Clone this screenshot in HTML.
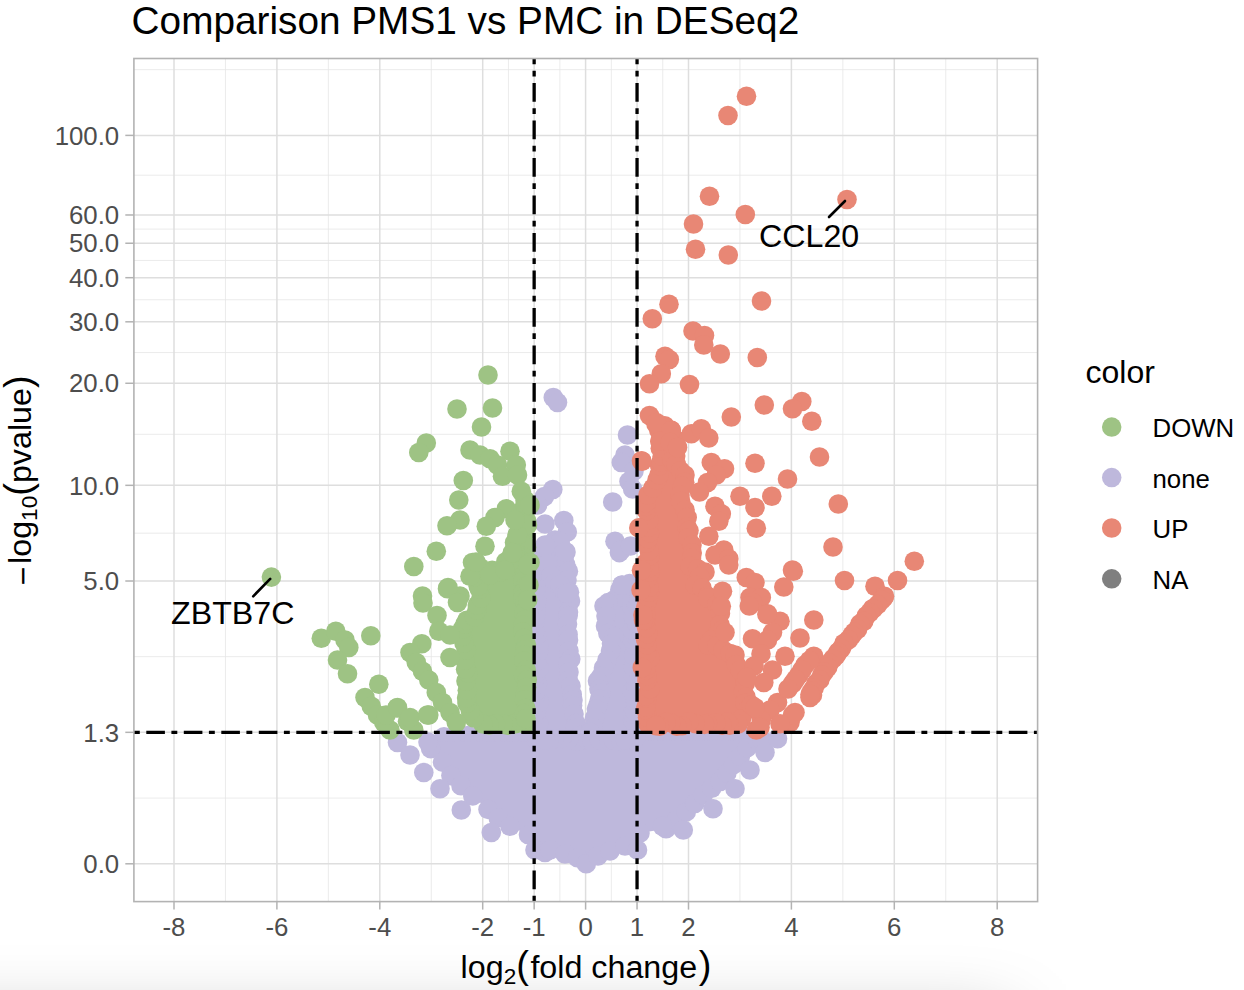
<!DOCTYPE html>
<html lang="en"><head><meta charset="utf-8"><title>Comparison PMS1 vs PMC in DESeq2</title>
<style>html,body{margin:0;padding:0;background:#fff;}body{width:1244px;height:990px;overflow:hidden;}svg{display:block;font-family:"Liberation Sans",Arial,Helvetica,sans-serif;}</style></head><body>
<svg width="1244" height="990" viewBox="0 0 1244 990">
<defs><filter id="bl" filterUnits="userSpaceOnUse" x="-400" y="800" width="1800" height="600"><feGaussianBlur stdDeviation="36"/></filter>
<clipPath id="cp"><rect x="133.9" y="58.5" width="903.6999999999999" height="843.1"/></clipPath></defs>
<rect width="1244" height="990" fill="#fff"/>
<rect x="-300" y="1024" width="1308" height="300" fill="#000" fill-opacity="0.3" filter="url(#bl)"/>
<rect x="133.9" y="58.5" width="903.6999999999999" height="843.1" fill="#fff"/>
<g stroke="#e6e6e6" stroke-width="0.8" fill="none">
<line x1="225.45" x2="225.45" y1="58.5" y2="901.6"/>
<line x1="328.35" x2="328.35" y1="58.5" y2="901.6"/>
<line x1="431.25" x2="431.25" y1="58.5" y2="901.6"/>
<line x1="508.43" x2="508.43" y1="58.5" y2="901.6"/>
<line x1="559.88" x2="559.88" y1="58.5" y2="901.6"/>
<line x1="611.33" x2="611.33" y1="58.5" y2="901.6"/>
<line x1="662.78" x2="662.78" y1="58.5" y2="901.6"/>
<line x1="739.95" x2="739.95" y1="58.5" y2="901.6"/>
<line x1="842.85" x2="842.85" y1="58.5" y2="901.6"/>
<line x1="945.75" x2="945.75" y1="58.5" y2="901.6"/>
<line x1="133.9" x2="1037.6" y1="798.07" y2="798.07"/>
<line x1="133.9" x2="1037.6" y1="656.67" y2="656.67"/>
<line x1="133.9" x2="1037.6" y1="533.17" y2="533.17"/>
<line x1="133.9" x2="1037.6" y1="434.31" y2="434.31"/>
<line x1="133.9" x2="1037.6" y1="352.55" y2="352.55"/>
<line x1="133.9" x2="1037.6" y1="299.75" y2="299.75"/>
<line x1="133.9" x2="1037.6" y1="260.46" y2="260.46"/>
<line x1="133.9" x2="1037.6" y1="229.11" y2="229.11"/>
<line x1="133.9" x2="1037.6" y1="175.19" y2="175.19"/>
<line x1="133.9" x2="1037.6" y1="69.67" y2="69.67"/>
</g>
<g stroke="#dedede" stroke-width="1.5" fill="none">
<line x1="174.00" x2="174.00" y1="58.5" y2="901.6"/>
<line x1="276.90" x2="276.90" y1="58.5" y2="901.6"/>
<line x1="379.80" x2="379.80" y1="58.5" y2="901.6"/>
<line x1="482.70" x2="482.70" y1="58.5" y2="901.6"/>
<line x1="534.15" x2="534.15" y1="58.5" y2="901.6"/>
<line x1="585.60" x2="585.60" y1="58.5" y2="901.6"/>
<line x1="637.05" x2="637.05" y1="58.5" y2="901.6"/>
<line x1="688.50" x2="688.50" y1="58.5" y2="901.6"/>
<line x1="791.40" x2="791.40" y1="58.5" y2="901.6"/>
<line x1="894.30" x2="894.30" y1="58.5" y2="901.6"/>
<line x1="997.20" x2="997.20" y1="58.5" y2="901.6"/>
<line x1="133.9" x2="1037.6" y1="863.80" y2="863.80"/>
<line x1="133.9" x2="1037.6" y1="732.34" y2="732.34"/>
<line x1="133.9" x2="1037.6" y1="581.01" y2="581.01"/>
<line x1="133.9" x2="1037.6" y1="485.34" y2="485.34"/>
<line x1="133.9" x2="1037.6" y1="383.28" y2="383.28"/>
<line x1="133.9" x2="1037.6" y1="321.81" y2="321.81"/>
<line x1="133.9" x2="1037.6" y1="277.69" y2="277.69"/>
<line x1="133.9" x2="1037.6" y1="243.24" y2="243.24"/>
<line x1="133.9" x2="1037.6" y1="214.98" y2="214.98"/>
<line x1="133.9" x2="1037.6" y1="135.40" y2="135.40"/>
</g>
<g clip-path="url(#cp)">
<g fill="#BEB8DC"><circle cx="444.0" cy="736.8" r="9.8"/><circle cx="450.0" cy="737.8" r="9.8"/><circle cx="456.0" cy="736.0" r="9.8"/><circle cx="462.0" cy="737.0" r="9.8"/><circle cx="468.0" cy="735.6" r="9.8"/><circle cx="474.0" cy="737.5" r="9.8"/><circle cx="480.0" cy="737.8" r="9.8"/><circle cx="486.0" cy="737.2" r="9.8"/><circle cx="492.0" cy="738.1" r="9.8"/><circle cx="498.0" cy="736.4" r="9.8"/><circle cx="504.0" cy="737.6" r="9.8"/><circle cx="510.0" cy="737.3" r="9.8"/><circle cx="516.0" cy="737.2" r="9.8"/><circle cx="522.0" cy="736.9" r="9.8"/><circle cx="528.0" cy="738.0" r="9.8"/><circle cx="534.0" cy="738.3" r="9.8"/><circle cx="637.0" cy="736.9" r="9.8"/><circle cx="643.0" cy="737.5" r="9.8"/><circle cx="649.0" cy="735.7" r="9.8"/><circle cx="655.0" cy="737.6" r="9.8"/><circle cx="661.0" cy="737.4" r="9.8"/><circle cx="667.0" cy="738.5" r="9.8"/><circle cx="673.0" cy="738.0" r="9.8"/><circle cx="679.0" cy="736.4" r="9.8"/><circle cx="685.0" cy="736.7" r="9.8"/><circle cx="691.0" cy="737.5" r="9.8"/><circle cx="697.0" cy="735.6" r="9.8"/><circle cx="703.0" cy="736.9" r="9.8"/><circle cx="709.0" cy="736.0" r="9.8"/><circle cx="715.0" cy="735.9" r="9.8"/><circle cx="721.0" cy="735.7" r="9.8"/><circle cx="727.0" cy="737.8" r="9.8"/><circle cx="733.0" cy="735.9" r="9.8"/><circle cx="739.0" cy="736.2" r="9.8"/><circle cx="745.0" cy="736.7" r="9.8"/><circle cx="751.0" cy="738.1" r="9.8"/></g>
<polygon fill="#BEB8DC" points="430.6,748.6 442.5,762.1 450.9,775.6 461.0,785.8 472.8,795.9 488.0,809.4 498.2,817.8 510.0,826.3 528.5,834.7 535.0,850.0 545.0,852.5 550.0,850.0 565.0,854.0 577.5,857.7 586.3,863.8 598.0,856.0 610.0,851.0 625.0,846.0 637.5,850.0 640.0,833.0 666.1,828.8 676.2,820.3 686.3,811.9 694.8,803.5 703.2,795.0 711.7,788.3 720.1,781.5 726.9,773.1 733.6,764.6 740.4,756.2 747.1,747.8 757.5,740.5 762.0,740.0 428.0,742.0"/><g fill="#BEB8DC"><circle cx="430.6" cy="748.6" r="9.8"/><circle cx="442.5" cy="762.1" r="9.8"/><circle cx="450.9" cy="775.6" r="9.8"/><circle cx="461.0" cy="785.8" r="9.8"/><circle cx="472.8" cy="795.9" r="9.8"/><circle cx="488.0" cy="809.4" r="9.8"/><circle cx="498.2" cy="817.8" r="9.8"/><circle cx="510.0" cy="826.3" r="9.8"/><circle cx="528.5" cy="834.7" r="9.8"/><circle cx="535.0" cy="850.0" r="9.8"/><circle cx="545.0" cy="852.5" r="9.8"/><circle cx="550.0" cy="850.0" r="9.8"/><circle cx="565.0" cy="854.0" r="9.8"/><circle cx="577.5" cy="857.7" r="9.8"/><circle cx="586.3" cy="863.8" r="9.8"/><circle cx="598.0" cy="856.0" r="9.8"/><circle cx="610.0" cy="851.0" r="9.8"/><circle cx="625.0" cy="846.0" r="9.8"/><circle cx="637.5" cy="850.0" r="9.8"/><circle cx="640.0" cy="833.0" r="9.8"/><circle cx="666.1" cy="828.8" r="9.8"/><circle cx="676.2" cy="820.3" r="9.8"/><circle cx="686.3" cy="811.9" r="9.8"/><circle cx="694.8" cy="803.5" r="9.8"/><circle cx="703.2" cy="795.0" r="9.8"/><circle cx="711.7" cy="788.3" r="9.8"/><circle cx="720.1" cy="781.5" r="9.8"/><circle cx="726.9" cy="773.1" r="9.8"/><circle cx="733.6" cy="764.6" r="9.8"/><circle cx="740.4" cy="756.2" r="9.8"/><circle cx="747.1" cy="747.8" r="9.8"/><circle cx="757.5" cy="740.5" r="9.8"/><circle cx="762.0" cy="740.0" r="9.8"/><circle cx="428.0" cy="742.0" r="9.8"/></g>
<polygon fill="#BEB8DC" points="537.0,740.0 537.0,600.0 540.0,565.0 545.0,545.0 560.0,542.0 566.0,552.0 567.0,580.0 570.5,601.0 568.5,612.0 567.5,624.0 568.5,640.0 569.0,651.0 569.0,672.0 571.0,686.0 573.0,700.0 574.0,714.0 575.0,728.0 582.0,740.0"/><g fill="#BEB8DC"><circle cx="537.0" cy="740.0" r="9.8"/><circle cx="534.9" cy="733.7" r="9.8"/><circle cx="537.2" cy="729.7" r="9.8"/><circle cx="538.6" cy="723.6" r="9.8"/><circle cx="535.9" cy="715.2" r="9.8"/><circle cx="536.3" cy="711.5" r="9.8"/><circle cx="539.3" cy="701.7" r="9.8"/><circle cx="535.4" cy="696.1" r="9.8"/><circle cx="535.7" cy="691.2" r="9.8"/><circle cx="537.4" cy="684.0" r="9.8"/><circle cx="534.5" cy="678.7" r="9.8"/><circle cx="536.3" cy="673.4" r="9.8"/><circle cx="539.3" cy="667.9" r="9.8"/><circle cx="537.1" cy="661.5" r="9.8"/><circle cx="537.9" cy="652.6" r="9.8"/><circle cx="539.0" cy="650.1" r="9.8"/><circle cx="538.9" cy="644.1" r="9.8"/><circle cx="536.5" cy="636.0" r="9.8"/><circle cx="535.0" cy="631.1" r="9.8"/><circle cx="534.8" cy="622.2" r="9.8"/><circle cx="535.5" cy="616.6" r="9.8"/><circle cx="536.2" cy="609.9" r="9.8"/><circle cx="534.5" cy="604.3" r="9.8"/><circle cx="537.0" cy="600.0" r="9.8"/><circle cx="535.6" cy="592.3" r="9.8"/><circle cx="535.8" cy="587.9" r="9.8"/><circle cx="539.4" cy="577.2" r="9.8"/><circle cx="538.2" cy="571.2" r="9.8"/><circle cx="540.0" cy="565.0" r="9.8"/><circle cx="541.0" cy="556.4" r="9.8"/><circle cx="545.1" cy="554.1" r="9.8"/><circle cx="545.0" cy="545.0" r="9.8"/><circle cx="552.3" cy="543.4" r="9.8"/><circle cx="560.0" cy="542.0" r="9.8"/><circle cx="566.0" cy="552.0" r="9.8"/><circle cx="564.2" cy="557.0" r="9.8"/><circle cx="565.7" cy="564.8" r="9.8"/><circle cx="568.4" cy="571.3" r="9.8"/><circle cx="567.0" cy="580.0" r="9.8"/><circle cx="565.8" cy="589.3" r="9.8"/><circle cx="569.5" cy="592.2" r="9.8"/><circle cx="570.5" cy="601.0" r="9.8"/><circle cx="568.5" cy="612.0" r="9.8"/><circle cx="568.2" cy="615.6" r="9.8"/><circle cx="567.5" cy="624.0" r="9.8"/><circle cx="568.1" cy="634.4" r="9.8"/><circle cx="568.5" cy="640.0" r="9.8"/><circle cx="569.0" cy="651.0" r="9.8"/><circle cx="570.8" cy="659.0" r="9.8"/><circle cx="567.8" cy="664.3" r="9.8"/><circle cx="569.0" cy="672.0" r="9.8"/><circle cx="568.3" cy="680.4" r="9.8"/><circle cx="571.0" cy="686.0" r="9.8"/><circle cx="572.2" cy="694.4" r="9.8"/><circle cx="573.0" cy="700.0" r="9.8"/><circle cx="572.6" cy="705.6" r="9.8"/><circle cx="574.0" cy="714.0" r="9.8"/><circle cx="576.1" cy="723.4" r="9.8"/><circle cx="575.0" cy="728.0" r="9.8"/><circle cx="580.3" cy="735.5" r="9.8"/><circle cx="582.0" cy="740.0" r="9.8"/><circle cx="577.2" cy="741.2" r="9.8"/><circle cx="567.8" cy="740.1" r="9.8"/><circle cx="562.0" cy="737.6" r="9.8"/><circle cx="553.9" cy="738.9" r="9.8"/><circle cx="548.7" cy="741.0" r="9.8"/><circle cx="545.7" cy="739.7" r="9.8"/></g>
<polygon fill="#BEB8DC" points="634.0,740.0 634.0,585.0 622.0,585.0 620.0,597.0 604.0,606.0 606.0,616.0 605.5,626.0 614.0,637.0 610.5,651.0 607.0,660.0 603.5,668.0 597.5,681.0 601.0,693.0 598.0,705.0 594.5,718.0 593.0,728.0 588.0,740.0"/><g fill="#BEB8DC"><circle cx="634.0" cy="740.0" r="9.8"/><circle cx="636.2" cy="736.2" r="9.8"/><circle cx="636.3" cy="726.9" r="9.8"/><circle cx="632.6" cy="720.0" r="9.8"/><circle cx="632.5" cy="713.7" r="9.8"/><circle cx="634.6" cy="711.0" r="9.8"/><circle cx="635.7" cy="702.7" r="9.8"/><circle cx="634.8" cy="698.1" r="9.8"/><circle cx="631.9" cy="691.2" r="9.8"/><circle cx="636.0" cy="685.6" r="9.8"/><circle cx="635.3" cy="677.9" r="9.8"/><circle cx="632.4" cy="673.2" r="9.8"/><circle cx="633.2" cy="667.1" r="9.8"/><circle cx="636.4" cy="658.9" r="9.8"/><circle cx="633.5" cy="655.4" r="9.8"/><circle cx="635.1" cy="645.4" r="9.8"/><circle cx="632.1" cy="639.1" r="9.8"/><circle cx="636.0" cy="636.1" r="9.8"/><circle cx="632.2" cy="630.0" r="9.8"/><circle cx="636.4" cy="623.0" r="9.8"/><circle cx="633.3" cy="616.2" r="9.8"/><circle cx="632.2" cy="607.4" r="9.8"/><circle cx="636.4" cy="604.3" r="9.8"/><circle cx="634.1" cy="599.6" r="9.8"/><circle cx="633.7" cy="593.1" r="9.8"/><circle cx="634.0" cy="585.0" r="9.8"/><circle cx="629.6" cy="583.6" r="9.8"/><circle cx="622.0" cy="585.0" r="9.8"/><circle cx="619.8" cy="590.0" r="9.8"/><circle cx="620.0" cy="597.0" r="9.8"/><circle cx="613.4" cy="600.4" r="9.8"/><circle cx="608.1" cy="602.6" r="9.8"/><circle cx="604.0" cy="606.0" r="9.8"/><circle cx="606.0" cy="616.0" r="9.8"/><circle cx="605.5" cy="626.0" r="9.8"/><circle cx="607.9" cy="633.6" r="9.8"/><circle cx="614.0" cy="637.0" r="9.8"/><circle cx="611.5" cy="643.8" r="9.8"/><circle cx="610.5" cy="651.0" r="9.8"/><circle cx="607.0" cy="660.0" r="9.8"/><circle cx="603.5" cy="668.0" r="9.8"/><circle cx="600.9" cy="676.5" r="9.8"/><circle cx="597.5" cy="681.0" r="9.8"/><circle cx="598.9" cy="689.1" r="9.8"/><circle cx="601.0" cy="693.0" r="9.8"/><circle cx="599.5" cy="699.2" r="9.8"/><circle cx="598.0" cy="705.0" r="9.8"/><circle cx="596.4" cy="709.1" r="9.8"/><circle cx="594.5" cy="718.0" r="9.8"/><circle cx="593.0" cy="728.0" r="9.8"/><circle cx="590.2" cy="732.4" r="9.8"/><circle cx="588.0" cy="740.0" r="9.8"/><circle cx="592.1" cy="741.5" r="9.8"/><circle cx="599.5" cy="739.9" r="9.8"/><circle cx="608.8" cy="740.3" r="9.8"/><circle cx="613.4" cy="740.1" r="9.8"/><circle cx="621.1" cy="741.4" r="9.8"/><circle cx="625.5" cy="740.3" r="9.8"/></g>
<g fill="#BEB8DC"><circle cx="553.3" cy="397.5" r="9.8"/><circle cx="557.5" cy="402.5" r="9.8"/><circle cx="627.5" cy="435.0" r="9.8"/><circle cx="625.0" cy="455.0" r="9.8"/><circle cx="621.3" cy="462.5" r="9.8"/><circle cx="634.0" cy="471.0" r="9.8"/><circle cx="629.0" cy="481.5" r="9.8"/><circle cx="632.6" cy="489.0" r="9.8"/><circle cx="612.7" cy="502.0" r="9.8"/><circle cx="552.8" cy="489.5" r="9.8"/><circle cx="544.5" cy="496.5" r="9.8"/><circle cx="537.5" cy="505.0" r="9.8"/><circle cx="563.8" cy="520.5" r="9.8"/><circle cx="545.0" cy="524.0" r="9.8"/><circle cx="567.3" cy="532.0" r="9.8"/><circle cx="555.0" cy="540.0" r="9.8"/><circle cx="560.0" cy="542.0" r="9.8"/><circle cx="565.0" cy="551.5" r="9.8"/><circle cx="545.5" cy="545.5" r="9.8"/><circle cx="547.6" cy="564.0" r="9.8"/><circle cx="551.0" cy="575.6" r="9.8"/><circle cx="555.0" cy="582.5" r="9.8"/><circle cx="560.0" cy="584.5" r="9.8"/><circle cx="565.0" cy="592.5" r="9.8"/><circle cx="567.0" cy="593.3" r="9.8"/><circle cx="615.0" cy="541.2" r="9.8"/><circle cx="619.4" cy="552.6" r="9.8"/><circle cx="621.3" cy="550.0" r="9.8"/><circle cx="630.5" cy="546.0" r="9.8"/><circle cx="622.0" cy="585.2" r="9.8"/><circle cx="397.5" cy="742.5" r="9.8"/><circle cx="410.0" cy="755.0" r="9.8"/><circle cx="423.8" cy="772.5" r="9.8"/><circle cx="440.0" cy="788.8" r="9.8"/><circle cx="461.3" cy="810.0" r="9.8"/><circle cx="491.3" cy="832.5" r="9.8"/><circle cx="777.5" cy="738.8" r="9.8"/><circle cx="765.0" cy="752.5" r="9.8"/><circle cx="750.0" cy="770.0" r="9.8"/><circle cx="735.0" cy="788.8" r="9.8"/><circle cx="713.0" cy="808.8" r="9.8"/><circle cx="683.3" cy="830.0" r="9.8"/><circle cx="662.5" cy="826.3" r="9.8"/></g>
<polygon fill="#9EC384" points="525.0,724.0 483.0,724.0 474.0,718.0 467.0,703.0 466.0,681.0 465.0,660.0 464.0,643.0 465.0,624.0 477.0,610.0 481.0,598.0 474.0,577.0 478.0,567.0 500.0,572.0 515.0,552.0 517.0,535.0 524.0,525.0 525.0,505.0 525.0,500.0"/><g fill="#9EC384"><circle cx="525.0" cy="724.0" r="9.8"/><circle cx="517.7" cy="722.9" r="9.8"/><circle cx="514.4" cy="724.0" r="9.8"/><circle cx="507.3" cy="725.3" r="9.8"/><circle cx="503.1" cy="723.7" r="9.8"/><circle cx="495.6" cy="724.0" r="9.8"/><circle cx="489.1" cy="725.0" r="9.8"/><circle cx="483.0" cy="724.0" r="9.8"/><circle cx="474.0" cy="718.0" r="9.8"/><circle cx="470.3" cy="710.7" r="9.8"/><circle cx="467.0" cy="703.0" r="9.8"/><circle cx="466.6" cy="697.9" r="9.8"/><circle cx="467.3" cy="690.2" r="9.8"/><circle cx="466.0" cy="681.0" r="9.8"/><circle cx="467.9" cy="672.8" r="9.8"/><circle cx="465.6" cy="669.2" r="9.8"/><circle cx="465.0" cy="660.0" r="9.8"/><circle cx="466.2" cy="649.7" r="9.8"/><circle cx="464.0" cy="643.0" r="9.8"/><circle cx="462.4" cy="636.4" r="9.8"/><circle cx="462.5" cy="629.0" r="9.8"/><circle cx="465.0" cy="624.0" r="9.8"/><circle cx="466.9" cy="620.2" r="9.8"/><circle cx="474.4" cy="616.7" r="9.8"/><circle cx="477.0" cy="610.0" r="9.8"/><circle cx="477.3" cy="605.1" r="9.8"/><circle cx="481.0" cy="598.0" r="9.8"/><circle cx="479.5" cy="589.2" r="9.8"/><circle cx="478.2" cy="586.3" r="9.8"/><circle cx="474.0" cy="577.0" r="9.8"/><circle cx="478.0" cy="567.0" r="9.8"/><circle cx="483.9" cy="570.9" r="9.8"/><circle cx="492.2" cy="570.3" r="9.8"/><circle cx="500.0" cy="572.0" r="9.8"/><circle cx="506.2" cy="568.7" r="9.8"/><circle cx="505.8" cy="561.7" r="9.8"/><circle cx="511.3" cy="556.2" r="9.8"/><circle cx="515.0" cy="552.0" r="9.8"/><circle cx="514.5" cy="542.6" r="9.8"/><circle cx="517.0" cy="535.0" r="9.8"/><circle cx="521.6" cy="527.6" r="9.8"/><circle cx="524.0" cy="525.0" r="9.8"/><circle cx="524.6" cy="518.0" r="9.8"/><circle cx="522.3" cy="510.8" r="9.8"/><circle cx="525.0" cy="505.0" r="9.8"/><circle cx="525.0" cy="500.0" r="9.8"/><circle cx="525.6" cy="506.1" r="9.8"/><circle cx="522.8" cy="514.5" r="9.8"/><circle cx="526.4" cy="520.5" r="9.8"/><circle cx="523.0" cy="523.0" r="9.8"/><circle cx="522.7" cy="531.7" r="9.8"/><circle cx="523.9" cy="534.5" r="9.8"/><circle cx="524.6" cy="544.4" r="9.8"/><circle cx="526.6" cy="547.2" r="9.8"/><circle cx="523.2" cy="556.6" r="9.8"/><circle cx="525.4" cy="561.5" r="9.8"/><circle cx="522.9" cy="564.4" r="9.8"/><circle cx="525.9" cy="572.3" r="9.8"/><circle cx="522.9" cy="580.9" r="9.8"/><circle cx="525.7" cy="586.3" r="9.8"/><circle cx="522.9" cy="592.6" r="9.8"/><circle cx="522.8" cy="598.7" r="9.8"/><circle cx="524.8" cy="602.1" r="9.8"/><circle cx="525.3" cy="611.1" r="9.8"/><circle cx="523.8" cy="613.2" r="9.8"/><circle cx="525.1" cy="619.8" r="9.8"/><circle cx="523.0" cy="625.4" r="9.8"/><circle cx="522.8" cy="631.7" r="9.8"/><circle cx="524.1" cy="638.3" r="9.8"/><circle cx="526.3" cy="644.2" r="9.8"/><circle cx="525.0" cy="649.7" r="9.8"/><circle cx="524.2" cy="655.0" r="9.8"/><circle cx="523.8" cy="661.0" r="9.8"/><circle cx="526.2" cy="669.8" r="9.8"/><circle cx="523.4" cy="675.4" r="9.8"/><circle cx="527.2" cy="679.7" r="9.8"/><circle cx="526.6" cy="687.3" r="9.8"/><circle cx="525.0" cy="695.4" r="9.8"/><circle cx="524.5" cy="699.8" r="9.8"/><circle cx="525.9" cy="708.3" r="9.8"/><circle cx="524.2" cy="713.6" r="9.8"/><circle cx="526.0" cy="718.6" r="9.8"/></g>
<g fill="#9EC384"><circle cx="271.4" cy="577.1" r="9.8"/><circle cx="488.0" cy="375.0" r="9.8"/><circle cx="457.0" cy="409.0" r="9.8"/><circle cx="492.5" cy="408.0" r="9.8"/><circle cx="481.5" cy="427.0" r="9.8"/><circle cx="426.3" cy="443.0" r="9.8"/><circle cx="418.8" cy="452.5" r="9.8"/><circle cx="470.0" cy="450.0" r="9.8"/><circle cx="480.0" cy="455.0" r="9.8"/><circle cx="490.0" cy="458.8" r="9.8"/><circle cx="510.0" cy="451.3" r="9.8"/><circle cx="497.5" cy="465.0" r="9.8"/><circle cx="516.3" cy="465.0" r="9.8"/><circle cx="502.5" cy="476.3" r="9.8"/><circle cx="517.5" cy="475.0" r="9.8"/><circle cx="521.3" cy="491.3" r="9.8"/><circle cx="463.3" cy="480.5" r="9.8"/><circle cx="458.8" cy="500.0" r="9.8"/><circle cx="460.0" cy="520.0" r="9.8"/><circle cx="447.0" cy="525.8" r="9.8"/><circle cx="506.3" cy="508.8" r="9.8"/><circle cx="495.0" cy="517.5" r="9.8"/><circle cx="486.3" cy="526.3" r="9.8"/><circle cx="485.0" cy="546.3" r="9.8"/><circle cx="436.3" cy="551.3" r="9.8"/><circle cx="413.8" cy="566.5" r="9.8"/><circle cx="472.5" cy="562.5" r="9.8"/><circle cx="480.0" cy="567.5" r="9.8"/><circle cx="470.0" cy="576.3" r="9.8"/><circle cx="448.0" cy="587.5" r="9.8"/><circle cx="422.5" cy="596.0" r="9.8"/><circle cx="460.0" cy="596.0" r="9.8"/><circle cx="530.0" cy="505.0" r="9.8"/><circle cx="527.5" cy="525.0" r="9.8"/><circle cx="517.5" cy="535.0" r="9.8"/><circle cx="515.0" cy="552.5" r="9.8"/><circle cx="530.0" cy="562.5" r="9.8"/><circle cx="476.0" cy="562.0" r="9.8"/><circle cx="490.0" cy="575.0" r="9.8"/><circle cx="505.0" cy="570.0" r="9.8"/><circle cx="512.5" cy="552.5" r="9.8"/><circle cx="515.0" cy="520.0" r="9.8"/><circle cx="447.5" cy="588.8" r="9.8"/><circle cx="457.5" cy="602.5" r="9.8"/><circle cx="423.0" cy="603.0" r="9.8"/><circle cx="437.0" cy="615.5" r="9.8"/><circle cx="438.8" cy="631.3" r="9.8"/><circle cx="450.0" cy="635.0" r="9.8"/><circle cx="321.3" cy="638.3" r="9.8"/><circle cx="335.8" cy="631.3" r="9.8"/><circle cx="345.0" cy="640.0" r="9.8"/><circle cx="348.8" cy="647.5" r="9.8"/><circle cx="370.8" cy="635.8" r="9.8"/><circle cx="337.5" cy="660.0" r="9.8"/><circle cx="347.5" cy="673.8" r="9.8"/><circle cx="421.8" cy="643.8" r="9.8"/><circle cx="410.0" cy="652.5" r="9.8"/><circle cx="416.3" cy="662.5" r="9.8"/><circle cx="422.5" cy="671.3" r="9.8"/><circle cx="428.8" cy="680.0" r="9.8"/><circle cx="436.3" cy="692.5" r="9.8"/><circle cx="442.5" cy="702.5" r="9.8"/><circle cx="450.0" cy="712.5" r="9.8"/><circle cx="456.3" cy="722.5" r="9.8"/><circle cx="450.0" cy="657.5" r="9.8"/><circle cx="378.8" cy="684.3" r="9.8"/><circle cx="365.0" cy="697.5" r="9.8"/><circle cx="371.3" cy="706.3" r="9.8"/><circle cx="377.5" cy="715.0" r="9.8"/><circle cx="383.8" cy="722.5" r="9.8"/><circle cx="390.0" cy="730.0" r="9.8"/><circle cx="397.0" cy="708.0" r="9.8"/><circle cx="407.5" cy="721.3" r="9.8"/><circle cx="413.8" cy="730.0" r="9.8"/><circle cx="428.8" cy="715.0" r="9.8"/><circle cx="386.0" cy="715.0" r="9.8"/><circle cx="397.5" cy="707.5" r="9.8"/><circle cx="410.0" cy="717.5" r="9.8"/><circle cx="427.5" cy="715.0" r="9.8"/><circle cx="527.7" cy="565.0" r="9.8"/><circle cx="529.0" cy="585.0" r="9.8"/><circle cx="527.7" cy="600.0" r="9.8"/></g>
<polygon fill="#E88775" points="648.0,724.0 648.0,495.0 657.0,480.0 661.0,462.0 660.0,441.0 656.0,424.0 671.0,430.0 677.0,447.0 672.0,460.0 685.0,475.0 680.0,495.0 685.0,510.0 687.0,527.0 692.0,545.0 690.0,566.0 705.0,572.0 695.0,585.0 720.0,607.0 722.0,630.0 708.0,645.0 735.0,655.0 740.0,670.0 745.0,680.0 747.0,710.0 738.0,724.0"/><g fill="#E88775"><circle cx="648.0" cy="724.0" r="9.8"/><circle cx="647.5" cy="717.2" r="9.8"/><circle cx="645.8" cy="710.1" r="9.8"/><circle cx="645.9" cy="707.1" r="9.8"/><circle cx="646.8" cy="698.2" r="9.8"/><circle cx="645.9" cy="695.6" r="9.8"/><circle cx="649.9" cy="688.7" r="9.8"/><circle cx="646.9" cy="680.5" r="9.8"/><circle cx="647.0" cy="675.6" r="9.8"/><circle cx="646.3" cy="669.5" r="9.8"/><circle cx="646.8" cy="666.0" r="9.8"/><circle cx="650.4" cy="657.9" r="9.8"/><circle cx="646.7" cy="654.0" r="9.8"/><circle cx="647.0" cy="644.9" r="9.8"/><circle cx="645.5" cy="639.0" r="9.8"/><circle cx="647.9" cy="633.6" r="9.8"/><circle cx="646.5" cy="627.6" r="9.8"/><circle cx="645.5" cy="620.4" r="9.8"/><circle cx="645.9" cy="615.0" r="9.8"/><circle cx="645.7" cy="607.1" r="9.8"/><circle cx="647.0" cy="602.1" r="9.8"/><circle cx="648.4" cy="597.6" r="9.8"/><circle cx="649.3" cy="592.2" r="9.8"/><circle cx="649.1" cy="587.3" r="9.8"/><circle cx="647.4" cy="578.5" r="9.8"/><circle cx="650.4" cy="571.6" r="9.8"/><circle cx="649.1" cy="568.0" r="9.8"/><circle cx="645.7" cy="563.0" r="9.8"/><circle cx="650.0" cy="555.9" r="9.8"/><circle cx="649.2" cy="550.8" r="9.8"/><circle cx="646.2" cy="543.3" r="9.8"/><circle cx="648.0" cy="538.9" r="9.8"/><circle cx="649.5" cy="532.8" r="9.8"/><circle cx="648.4" cy="527.1" r="9.8"/><circle cx="648.9" cy="520.1" r="9.8"/><circle cx="646.6" cy="510.7" r="9.8"/><circle cx="646.2" cy="506.4" r="9.8"/><circle cx="646.0" cy="502.7" r="9.8"/><circle cx="648.0" cy="495.0" r="9.8"/><circle cx="652.8" cy="488.1" r="9.8"/><circle cx="657.0" cy="480.0" r="9.8"/><circle cx="659.0" cy="474.9" r="9.8"/><circle cx="659.6" cy="465.5" r="9.8"/><circle cx="661.0" cy="462.0" r="9.8"/><circle cx="662.2" cy="456.2" r="9.8"/><circle cx="660.3" cy="448.2" r="9.8"/><circle cx="660.0" cy="441.0" r="9.8"/><circle cx="658.8" cy="430.3" r="9.8"/><circle cx="656.0" cy="424.0" r="9.8"/><circle cx="664.7" cy="425.8" r="9.8"/><circle cx="671.0" cy="430.0" r="9.8"/><circle cx="670.9" cy="434.5" r="9.8"/><circle cx="676.1" cy="439.9" r="9.8"/><circle cx="677.0" cy="447.0" r="9.8"/><circle cx="675.7" cy="455.9" r="9.8"/><circle cx="672.0" cy="460.0" r="9.8"/><circle cx="676.3" cy="464.4" r="9.8"/><circle cx="680.6" cy="470.9" r="9.8"/><circle cx="685.0" cy="475.0" r="9.8"/><circle cx="684.7" cy="482.3" r="9.8"/><circle cx="682.4" cy="486.2" r="9.8"/><circle cx="680.0" cy="495.0" r="9.8"/><circle cx="680.7" cy="501.3" r="9.8"/><circle cx="685.0" cy="510.0" r="9.8"/><circle cx="687.2" cy="517.5" r="9.8"/><circle cx="687.0" cy="527.0" r="9.8"/><circle cx="689.0" cy="530.6" r="9.8"/><circle cx="688.1" cy="537.8" r="9.8"/><circle cx="692.0" cy="545.0" r="9.8"/><circle cx="692.2" cy="553.0" r="9.8"/><circle cx="691.5" cy="558.0" r="9.8"/><circle cx="690.0" cy="566.0" r="9.8"/><circle cx="697.6" cy="568.8" r="9.8"/><circle cx="705.0" cy="572.0" r="9.8"/><circle cx="699.8" cy="576.6" r="9.8"/><circle cx="695.0" cy="585.0" r="9.8"/><circle cx="702.0" cy="587.9" r="9.8"/><circle cx="707.4" cy="596.0" r="9.8"/><circle cx="707.6" cy="598.0" r="9.8"/><circle cx="716.6" cy="604.9" r="9.8"/><circle cx="720.0" cy="607.0" r="9.8"/><circle cx="720.4" cy="613.5" r="9.8"/><circle cx="719.9" cy="624.6" r="9.8"/><circle cx="722.0" cy="630.0" r="9.8"/><circle cx="715.9" cy="635.4" r="9.8"/><circle cx="710.9" cy="640.1" r="9.8"/><circle cx="708.0" cy="645.0" r="9.8"/><circle cx="717.0" cy="645.7" r="9.8"/><circle cx="723.1" cy="650.0" r="9.8"/><circle cx="730.2" cy="653.5" r="9.8"/><circle cx="735.0" cy="655.0" r="9.8"/><circle cx="736.2" cy="664.5" r="9.8"/><circle cx="740.0" cy="670.0" r="9.8"/><circle cx="745.0" cy="680.0" r="9.8"/><circle cx="745.3" cy="683.6" r="9.8"/><circle cx="743.3" cy="692.0" r="9.8"/><circle cx="746.0" cy="697.0" r="9.8"/><circle cx="744.8" cy="703.2" r="9.8"/><circle cx="747.0" cy="710.0" r="9.8"/><circle cx="741.6" cy="718.7" r="9.8"/><circle cx="738.0" cy="724.0" r="9.8"/><circle cx="729.5" cy="725.3" r="9.8"/><circle cx="727.7" cy="722.1" r="9.8"/><circle cx="722.1" cy="725.1" r="9.8"/><circle cx="716.0" cy="722.9" r="9.8"/><circle cx="707.4" cy="723.5" r="9.8"/><circle cx="704.5" cy="724.4" r="9.8"/><circle cx="695.3" cy="723.6" r="9.8"/><circle cx="688.9" cy="721.7" r="9.8"/><circle cx="682.0" cy="725.7" r="9.8"/><circle cx="676.9" cy="726.2" r="9.8"/><circle cx="670.7" cy="722.8" r="9.8"/><circle cx="666.1" cy="722.4" r="9.8"/><circle cx="659.4" cy="726.3" r="9.8"/><circle cx="655.9" cy="725.6" r="9.8"/></g>
<g fill="#E88775"><circle cx="746.5" cy="96.3" r="9.8"/><circle cx="728.0" cy="115.5" r="9.8"/><circle cx="709.5" cy="196.3" r="9.8"/><circle cx="847.0" cy="199.5" r="9.8"/><circle cx="745.3" cy="214.5" r="9.8"/><circle cx="693.5" cy="224.0" r="9.8"/><circle cx="695.5" cy="249.3" r="9.8"/><circle cx="728.3" cy="255.0" r="9.8"/><circle cx="761.5" cy="301.0" r="9.8"/><circle cx="669.0" cy="304.3" r="9.8"/><circle cx="652.3" cy="318.8" r="9.8"/><circle cx="693.0" cy="331.0" r="9.8"/><circle cx="704.5" cy="335.5" r="9.8"/><circle cx="703.8" cy="345.0" r="9.8"/><circle cx="720.3" cy="354.0" r="9.8"/><circle cx="757.3" cy="357.5" r="9.8"/><circle cx="665.0" cy="356.3" r="9.8"/><circle cx="669.3" cy="359.5" r="9.8"/><circle cx="661.3" cy="373.8" r="9.8"/><circle cx="649.5" cy="383.8" r="9.8"/><circle cx="689.5" cy="384.5" r="9.8"/><circle cx="764.3" cy="405.0" r="9.8"/><circle cx="801.8" cy="401.5" r="9.8"/><circle cx="792.5" cy="408.8" r="9.8"/><circle cx="811.8" cy="421.3" r="9.8"/><circle cx="731.3" cy="417.0" r="9.8"/><circle cx="649.5" cy="415.5" r="9.8"/><circle cx="656.3" cy="422.5" r="9.8"/><circle cx="671.3" cy="430.5" r="9.8"/><circle cx="691.3" cy="433.8" r="9.8"/><circle cx="701.3" cy="428.8" r="9.8"/><circle cx="708.8" cy="438.0" r="9.8"/><circle cx="660.0" cy="441.3" r="9.8"/><circle cx="670.0" cy="442.5" r="9.8"/><circle cx="677.5" cy="447.5" r="9.8"/><circle cx="819.5" cy="457.0" r="9.8"/><circle cx="755.0" cy="463.3" r="9.8"/><circle cx="642.0" cy="461.3" r="9.8"/><circle cx="711.3" cy="462.5" r="9.8"/><circle cx="724.5" cy="468.8" r="9.8"/><circle cx="716.3" cy="475.0" r="9.8"/><circle cx="707.5" cy="482.5" r="9.8"/><circle cx="699.5" cy="492.0" r="9.8"/><circle cx="787.5" cy="479.0" r="9.8"/><circle cx="771.8" cy="496.3" r="9.8"/><circle cx="740.0" cy="496.3" r="9.8"/><circle cx="755.0" cy="507.5" r="9.8"/><circle cx="838.3" cy="504.0" r="9.8"/><circle cx="715.0" cy="506.3" r="9.8"/><circle cx="721.3" cy="513.8" r="9.8"/><circle cx="718.8" cy="521.3" r="9.8"/><circle cx="756.3" cy="528.3" r="9.8"/><circle cx="708.8" cy="536.3" r="9.8"/><circle cx="833.0" cy="547.0" r="9.8"/><circle cx="914.3" cy="561.3" r="9.8"/><circle cx="792.5" cy="570.0" r="9.8"/><circle cx="723.8" cy="550.0" r="9.8"/><circle cx="715.0" cy="555.0" r="9.8"/><circle cx="728.8" cy="558.8" r="9.8"/><circle cx="728.8" cy="565.0" r="9.8"/><circle cx="746.3" cy="577.5" r="9.8"/><circle cx="755.0" cy="582.5" r="9.8"/><circle cx="793.3" cy="571.3" r="9.8"/><circle cx="783.8" cy="587.0" r="9.8"/><circle cx="722.5" cy="591.3" r="9.8"/><circle cx="750.0" cy="597.5" r="9.8"/><circle cx="761.3" cy="597.5" r="9.8"/><circle cx="752.5" cy="602.5" r="9.8"/><circle cx="767.5" cy="613.8" r="9.8"/><circle cx="780.0" cy="621.3" r="9.8"/><circle cx="772.5" cy="632.5" r="9.8"/><circle cx="752.5" cy="638.8" r="9.8"/><circle cx="767.5" cy="640.0" r="9.8"/><circle cx="725.0" cy="632.5" r="9.8"/><circle cx="721.3" cy="606.3" r="9.8"/><circle cx="813.8" cy="620.0" r="9.8"/><circle cx="800.0" cy="638.0" r="9.8"/><circle cx="785.0" cy="656.3" r="9.8"/><circle cx="844.5" cy="580.5" r="9.8"/><circle cx="897.5" cy="580.5" r="9.8"/><circle cx="875.0" cy="586.3" r="9.8"/><circle cx="883.8" cy="597.5" r="9.8"/><circle cx="872.5" cy="608.8" r="9.8"/><circle cx="813.8" cy="656.3" r="9.8"/><circle cx="805.0" cy="665.0" r="9.8"/><circle cx="798.8" cy="675.0" r="9.8"/><circle cx="792.5" cy="683.8" r="9.8"/><circle cx="772.5" cy="670.0" r="9.8"/><circle cx="763.8" cy="682.5" r="9.8"/><circle cx="777.5" cy="702.5" r="9.8"/><circle cx="770.0" cy="710.0" r="9.8"/><circle cx="761.3" cy="720.0" r="9.8"/><circle cx="756.3" cy="730.0" r="9.8"/><circle cx="795.0" cy="712.5" r="9.8"/><circle cx="790.0" cy="722.5" r="9.8"/><circle cx="751.3" cy="705.0" r="9.8"/><circle cx="812.5" cy="695.0" r="9.8"/><circle cx="792.5" cy="715.0" r="9.8"/><circle cx="780.0" cy="723.8" r="9.8"/><circle cx="760.0" cy="727.5" r="9.8"/><circle cx="810.0" cy="697.5" r="9.8"/><circle cx="755.0" cy="707.5" r="9.8"/><circle cx="641.5" cy="460.7" r="9.8"/><circle cx="638.8" cy="527.9" r="9.8"/><circle cx="641.5" cy="570.3" r="9.8"/><circle cx="884.5" cy="596.3" r="9.8"/><circle cx="881.6" cy="600.1" r="9.8"/><circle cx="877.8" cy="604.6" r="9.8"/><circle cx="873.3" cy="608.8" r="9.8"/><circle cx="869.8" cy="612.5" r="9.8"/><circle cx="866.4" cy="615.8" r="9.8"/><circle cx="863.8" cy="621.2" r="9.8"/><circle cx="859.9" cy="623.9" r="9.8"/><circle cx="857.6" cy="629.3" r="9.8"/><circle cx="854.3" cy="632.1" r="9.8"/><circle cx="851.9" cy="635.3" r="9.8"/><circle cx="848.5" cy="639.7" r="9.8"/><circle cx="844.0" cy="643.3" r="9.8"/><circle cx="841.3" cy="648.6" r="9.8"/><circle cx="838.1" cy="652.0" r="9.8"/><circle cx="836.1" cy="655.5" r="9.8"/><circle cx="833.0" cy="658.8" r="9.8"/><circle cx="829.2" cy="663.1" r="9.8"/><circle cx="827.7" cy="667.4" r="9.8"/><circle cx="824.2" cy="671.7" r="9.8"/><circle cx="821.8" cy="675.0" r="9.8"/><circle cx="819.8" cy="679.7" r="9.8"/><circle cx="816.1" cy="683.4" r="9.8"/><circle cx="814.1" cy="687.9" r="9.8"/><circle cx="812.1" cy="690.7" r="9.8"/><circle cx="810.1" cy="694.2" r="9.8"/><circle cx="809.5" cy="660.5" r="9.8"/><circle cx="802.0" cy="670.0" r="9.8"/><circle cx="795.5" cy="679.5" r="9.8"/><circle cx="788.0" cy="689.0" r="9.8"/><circle cx="761.0" cy="654.0" r="9.8"/><circle cx="754.0" cy="666.0" r="9.8"/><circle cx="747.0" cy="677.5" r="9.8"/><circle cx="749.3" cy="606.0" r="9.8"/><circle cx="766.9" cy="614.6" r="9.8"/><circle cx="643.5" cy="620.0" r="9.8"/><circle cx="642.3" cy="667.5" r="9.8"/><circle cx="641.0" cy="590.0" r="9.8"/><circle cx="643.0" cy="615.0" r="9.8"/></g>
<g stroke="#000" stroke-width="3.3" fill="none" stroke-dasharray="5.9 6.5 18.6 6.5">
<line x1="534.15" x2="534.15" y1="901.6" y2="58.5"/>
<line x1="637.05" x2="637.05" y1="901.6" y2="58.5"/>
<line x1="133.9" x2="1037.6" y1="732.34" y2="732.34"/>
</g>
</g>
<g stroke="#000" stroke-width="2.6" stroke-linecap="round"><line x1="270.2" y1="578.9" x2="253.2" y2="596.3"/><line x1="845" y1="201" x2="829" y2="217"/></g>
<g font-size="32.2" fill="#000"><text x="171" y="624">ZBTB7C</text><text x="759" y="246.5">CCL20</text></g>
<rect x="133.9" y="58.5" width="903.6999999999999" height="843.1" fill="none" stroke="#b3b3b3" stroke-width="1.6"/>
<g stroke="#b3b3b3" stroke-width="1.5">
<line x1="174.00" x2="174.00" y1="901.6" y2="909.6"/>
<line x1="276.90" x2="276.90" y1="901.6" y2="909.6"/>
<line x1="379.80" x2="379.80" y1="901.6" y2="909.6"/>
<line x1="482.70" x2="482.70" y1="901.6" y2="909.6"/>
<line x1="534.15" x2="534.15" y1="901.6" y2="909.6"/>
<line x1="585.60" x2="585.60" y1="901.6" y2="909.6"/>
<line x1="637.05" x2="637.05" y1="901.6" y2="909.6"/>
<line x1="688.50" x2="688.50" y1="901.6" y2="909.6"/>
<line x1="791.40" x2="791.40" y1="901.6" y2="909.6"/>
<line x1="894.30" x2="894.30" y1="901.6" y2="909.6"/>
<line x1="997.20" x2="997.20" y1="901.6" y2="909.6"/>
<line x1="125.30000000000001" x2="133.9" y1="863.80" y2="863.80"/>
<line x1="125.30000000000001" x2="133.9" y1="732.34" y2="732.34"/>
<line x1="125.30000000000001" x2="133.9" y1="581.01" y2="581.01"/>
<line x1="125.30000000000001" x2="133.9" y1="485.34" y2="485.34"/>
<line x1="125.30000000000001" x2="133.9" y1="383.28" y2="383.28"/>
<line x1="125.30000000000001" x2="133.9" y1="321.81" y2="321.81"/>
<line x1="125.30000000000001" x2="133.9" y1="277.69" y2="277.69"/>
<line x1="125.30000000000001" x2="133.9" y1="243.24" y2="243.24"/>
<line x1="125.30000000000001" x2="133.9" y1="214.98" y2="214.98"/>
<line x1="125.30000000000001" x2="133.9" y1="135.40" y2="135.40"/>
</g>
<g font-size="25.8" fill="#4d4d4d">
<g text-anchor="middle">
<text x="174.00" y="935.8">-8</text>
<text x="276.90" y="935.8">-6</text>
<text x="379.80" y="935.8">-4</text>
<text x="482.70" y="935.8">-2</text>
<text x="534.15" y="935.8">-1</text>
<text x="585.60" y="935.8">0</text>
<text x="637.05" y="935.8">1</text>
<text x="688.50" y="935.8">2</text>
<text x="791.40" y="935.8">4</text>
<text x="894.30" y="935.8">6</text>
<text x="997.20" y="935.8">8</text>
</g><g text-anchor="end">
<text x="119.2" y="873.00">0.0</text>
<text x="119.2" y="741.54">1.3</text>
<text x="119.2" y="590.21">5.0</text>
<text x="119.2" y="494.54">10.0</text>
<text x="119.2" y="392.48">20.0</text>
<text x="119.2" y="331.01">30.0</text>
<text x="119.2" y="286.89">40.0</text>
<text x="119.2" y="252.44">50.0</text>
<text x="119.2" y="224.18">60.0</text>
<text x="119.2" y="144.60">100.0</text>
</g></g>
<text x="131.6" y="33.7" font-size="38.75" fill="#000">Comparison PMS1 vs PMC in DESeq2</text>
<text x="460.6" y="977.8" font-size="32.25" fill="#000">log<tspan font-size="22.6" dy="6.5">2</tspan><tspan dy="-6.5" font-size="38">(</tspan><tspan dx="1.5">fold change</tspan><tspan font-size="38" dx="1.5">)</tspan></text>
<text transform="translate(30.7,585.3) rotate(-90)" font-size="32.25" fill="#000"><tspan dy="2.8">−</tspan><tspan dx="2.5" dy="-2.8">log</tspan><tspan font-size="22.6" dy="6.5">10</tspan><tspan dy="-6.5" font-size="38">(</tspan><tspan>pvalue</tspan><tspan font-size="38">)</tspan></text>
<text x="1085.5" y="383" font-size="32" fill="#000">color</text>
<circle cx="1111.7" cy="427.1" r="9.75" fill="#9EC384"/>
<text x="1152.5" y="437.3" font-size="25.8" fill="#000">DOWN</text>
<circle cx="1111.7" cy="477.6" r="9.75" fill="#BEB8DC"/>
<text x="1152.5" y="487.8" font-size="25.8" fill="#000">none</text>
<circle cx="1111.7" cy="528.0" r="9.75" fill="#E88775"/>
<text x="1152.5" y="538.2" font-size="25.8" fill="#000">UP</text>
<circle cx="1111.7" cy="578.8" r="9.75" fill="#7f7f7f"/>
<text x="1152.5" y="589.0" font-size="25.8" fill="#000">NA</text>
</svg></body></html>
